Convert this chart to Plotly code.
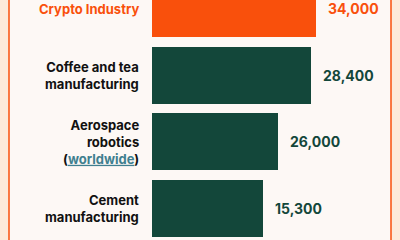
import plotly.graph_objects as go

# ---- data ----
categories = ["Crypto Industry", "Coffee and tea<br>manufacturing",
              "Aerospace<br>robotics<br>(<span style=\"color:#3f7f8f;text-decoration:underline\">worldwide</span>)",
              "Cement<br>manufacturing"]
value_labels = ["34,000", "28,400", "26,000", "15,300"]
# bar lengths as drawn in the picture (data units)
bar_lengths = [34000, 32900, 26100, 23000]
bar_colors = ["#F9500C", "#13473A", "#13473A", "#13473A"]
label_colors = ["#F9500C", "#111111", "#111111", "#111111"]
value_colors = ["#F9500C", "#13473A", "#13473A", "#13473A"]

W, H = 400, 240
px = 34000 / 164.0  # data units per pixel
x0_px = 152
pitch = 66.7
first_center = 8.5

ys = list(range(len(categories)))

fig = go.Figure()
fig.add_trace(go.Bar(
    x=bar_lengths, y=ys, orientation="h",
    marker=dict(color=bar_colors, line=dict(width=0)),
    width=0.855, hoverinfo="skip", showlegend=False,
))

FONT = "Inter, 'DejaVu Sans', sans-serif"
for i, y in enumerate(ys):
    fig.add_annotation(x=0, y=y, xref="x", yref="y", text="<b>" + categories[i] + "</b>",
                       showarrow=False, xanchor="right", align="right", xshift=-11,
                       font=dict(family=FONT, size=13, color=label_colors[i]))
    fig.add_annotation(x=bar_lengths[i], y=y, xref="x", yref="y", text="<b>" + value_labels[i] + "</b>",
                       showarrow=False, xanchor="left", xshift=10,
                       font=dict(family=FONT, size=14, color=value_colors[i]))

shapes = [
    dict(type="rect", xref="paper", yref="paper", x0=9/W, x1=391/W, y0=0, y1=1,
         fillcolor="#FDF8F5", line=dict(width=0), layer="below"),
    dict(type="line", xref="paper", yref="paper", x0=9/W, x1=9/W, y0=0, y1=1,
         line=dict(color="#F9500C", width=1.5)),
    dict(type="line", xref="paper", yref="paper", x0=391/W, x1=391/W, y0=0, y1=1,
         line=dict(color="#F9500C", width=1.5)),
]

fig.update_layout(
    width=W, height=H, margin=dict(l=0, r=0, t=0, b=0),
    paper_bgcolor="#FDEBDB", plot_bgcolor="rgba(0,0,0,0)",
    shapes=shapes,
    xaxis=dict(range=[-x0_px * px, (W - x0_px) * px], visible=False, fixedrange=True),
    yaxis=dict(range=[(H - first_center) / pitch, -first_center / pitch], visible=False, fixedrange=True),
    bargap=0,
)

fig.write_html("out.html", config={"displayModeBar": False})
